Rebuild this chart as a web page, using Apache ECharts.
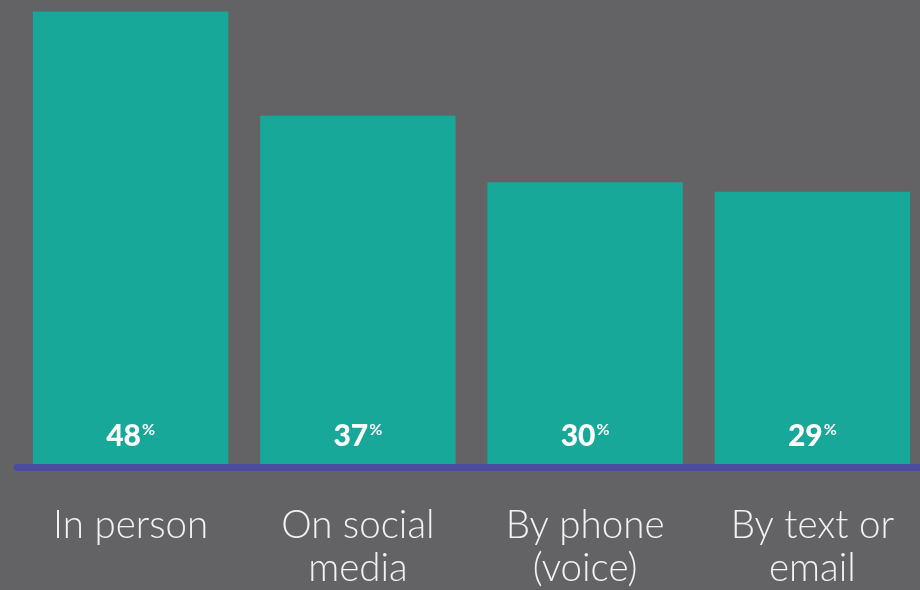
<!DOCTYPE html>
<html>
<head>
<meta charset="utf-8">
<script src="https://cdn.jsdelivr.net/npm/echarts@6/dist/echarts.min.js"></script>
<style>
  html, body { margin: 0; padding: 0; background: #636365; overflow: hidden; }
  #chart { width: 926px; height: 590px; }
</style>
</head>
<body>
<div id="chart"></div>
<script>
// Share of respondents by channel
const categories = ['In person', 'On social\nmedia', 'By phone\n(voice)', 'By text or\nemail'];
const values = [48, 37, 30, 29];

const chart = echarts.init(document.getElementById('chart'));
chart.setOption({
  backgroundColor: '#636365',
  animation: false,
  grid: { left: 17, top: 0, right: 0, height: 467.5, containLabel: false },
  xAxis: {
    type: 'category',
    data: categories,
    z: 5,
    axisLine: { show: true, lineStyle: { color: '#4a4d9f', width: 7 } },
    axisTick: { show: false },
    axisLabel: {
      color: '#f2f2f2',
      fontFamily: 'Lato',
      fontWeight: 300,
      fontSize: 38.5,
      lineHeight: 43,
      margin: 37,
      interval: 0
    }
  },
  yAxis: {
    type: 'value',
    min: 0,
    max: 49.2,
    show: false,
    splitLine: { show: false }
  },
  series: [{
    type: 'bar',
    data: values,
    barCategoryGap: '14%',
    itemStyle: { color: '#17a89a' },
    label: {
      show: true,
      position: 'insideBottom',
      distance: 16,
      formatter: p => '{n|' + p.value + '}{p|%}',
      rich: {
        n: { color: '#ffffff', fontFamily: 'Lato', fontWeight: 900, fontSize: 30 },
        p: { color: '#ffffff', fontFamily: 'Lato', fontWeight: 700, fontSize: 16, padding: [0, 0, 13, 1] }
      }
    }
  }]
});
</script>
</body>
</html>
